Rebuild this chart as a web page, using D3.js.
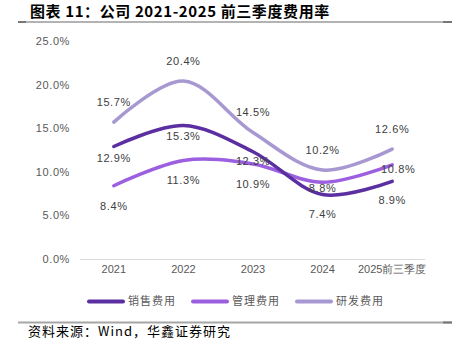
<!DOCTYPE html>
<html><head><meta charset="utf-8">
<script src="https://cdn.jsdelivr.net/npm/d3@7"></script>
<style>
body{margin:0;background:#fff;}
svg{display:block;font-family:"Noto Sans CJK SC","Noto Sans",sans-serif;}
</style></head>
<body><svg id="c" width="456" height="348"></svg>
<script>
const categories = ["2021","2022","2023","2024","2025前三季度"];
const seriesNames = ["销售费用","管理费用","研发费用"];
const sales = [12.9, 15.3, 12.3, 7.4, 8.9];
const admin = [8.4, 11.3, 10.9, 8.8, 10.8];
const rnd = [15.7, 20.4, 14.5, 10.2, 12.6];
const yTicks = [0, 5, 10, 15, 20, 25];

const colors = ["#5b2fa1", "#9b5fe0", "#a898d2"];
// label vertical offsets (px) relative to the point
const labelDy = [[12, 11, 9, 20, 19], [20, 20, 20, 6, 4], [-20, -20, -20, -20, -20]];
const labelDx = [[0,0,0,0,0],[0,0,0,0,6],[0,0,0,0,0]];

const svg = d3.select("#c");
const x = d3.scaleBand().domain(categories).range([79, 427]);
const y = d3.scaleLinear().domain([0, 25]).range([259, 41]);

// title
svg.append("text").attr("x", 30).attr("y", 17).attr("font-size", 15).attr("font-weight", "bold")
  .attr("letter-spacing", "0.6px")
  .attr("fill", "#000").text("图表 11：公司 2021-2025 前三季度费用率");
svg.append("line").attr("x1", 18).attr("x2", 452).attr("y1", 22).attr("y2", 22).attr("stroke", "#b3b3b3").attr("stroke-width", 2);
svg.append("line").attr("x1", 18).attr("x2", 26).attr("y1", 22).attr("y2", 22).attr("stroke", "#777").attr("stroke-width", 2);
svg.append("line").attr("x1", 443).attr("x2", 452).attr("y1", 22).attr("y2", 22).attr("stroke", "#777").attr("stroke-width", 2);

// y axis
const yAxis = d3.axisLeft(y).tickValues(yTicks).tickSize(0).tickPadding(0).tickFormat(d => d3.format(".1f")(d) + "%");
const gy = svg.append("g").attr("transform", "translate(70,0)").call(yAxis);
gy.select(".domain").remove();
gy.selectAll("text").attr("font-size", 11).attr("fill", "#595959").attr("font-family", "Liberation Sans, sans-serif").attr("letter-spacing", "0.6px");

// x axis
const xAxis = d3.axisBottom(x).tickSize(0).tickPadding(6);
const gx = svg.append("g").attr("transform", "translate(0,259)").call(xAxis);
gx.select(".domain").attr("stroke", "#d9d9d9").attr("d", "M80,0.5H425");
gx.selectAll("text").attr("font-size", 11).attr("fill", "#595959");

// lines
const data = [sales, admin, rnd];
const line = d3.line().x((d, i) => x(categories[i]) + x.bandwidth() / 2).y(d => y(d)).curve(d3.curveCatmullRom.alpha(0.5));
[2, 1, 0].forEach(s => {
  svg.append("path").attr("d", line(data[s])).attr("fill", "none").attr("stroke", colors[s])
    .attr("stroke-width", 3.5).attr("stroke-linecap", "round");
});
// labels
data.forEach((arr, s) => {
  svg.append("g").selectAll("text").data(arr).join("text")
    .attr("x", (d, i) => x(categories[i]) + x.bandwidth() / 2 + labelDx[s][i])
    .attr("y", (d, i) => y(d) + labelDy[s][i])
    .attr("dy", "0.35em").attr("text-anchor", "middle")
    .attr("font-size", 11).attr("fill", "#404040").attr("font-family", "Liberation Sans, sans-serif").attr("letter-spacing", "0.6px")
    .text(d => d3.format(".1f")(d) + "%");
});

// legend
const legX = [89, 193, 297];
seriesNames.forEach((n, i) => {
  svg.append("line").attr("x1", legX[i]).attr("x2", legX[i] + 34).attr("y1", 301.5).attr("y2", 301.5)
    .attr("stroke", colors[i]).attr("stroke-width", 4).attr("stroke-linecap", "round");
  svg.append("text").attr("x", legX[i] + 39).attr("y", 301.5).attr("dy", "0.35em")
    .attr("font-size", 11).attr("fill", "#595959").attr("letter-spacing", "1px").text(n);
});

// bottom rule & source
svg.append("line").attr("x1", 18).attr("x2", 452).attr("y1", 322.5).attr("y2", 322.5).attr("stroke", "#a6a6a6").attr("stroke-width", 2);
svg.append("line").attr("x1", 443).attr("x2", 452).attr("y1", 322.5).attr("y2", 322.5).attr("stroke", "#777").attr("stroke-width", 2);
svg.append("text").attr("x", 28).attr("y", 336).attr("font-size", 13).attr("letter-spacing", "1px").attr("fill", "#000")
  .text("资料来源：Wind，华鑫证券研究");
</script></body></html>
